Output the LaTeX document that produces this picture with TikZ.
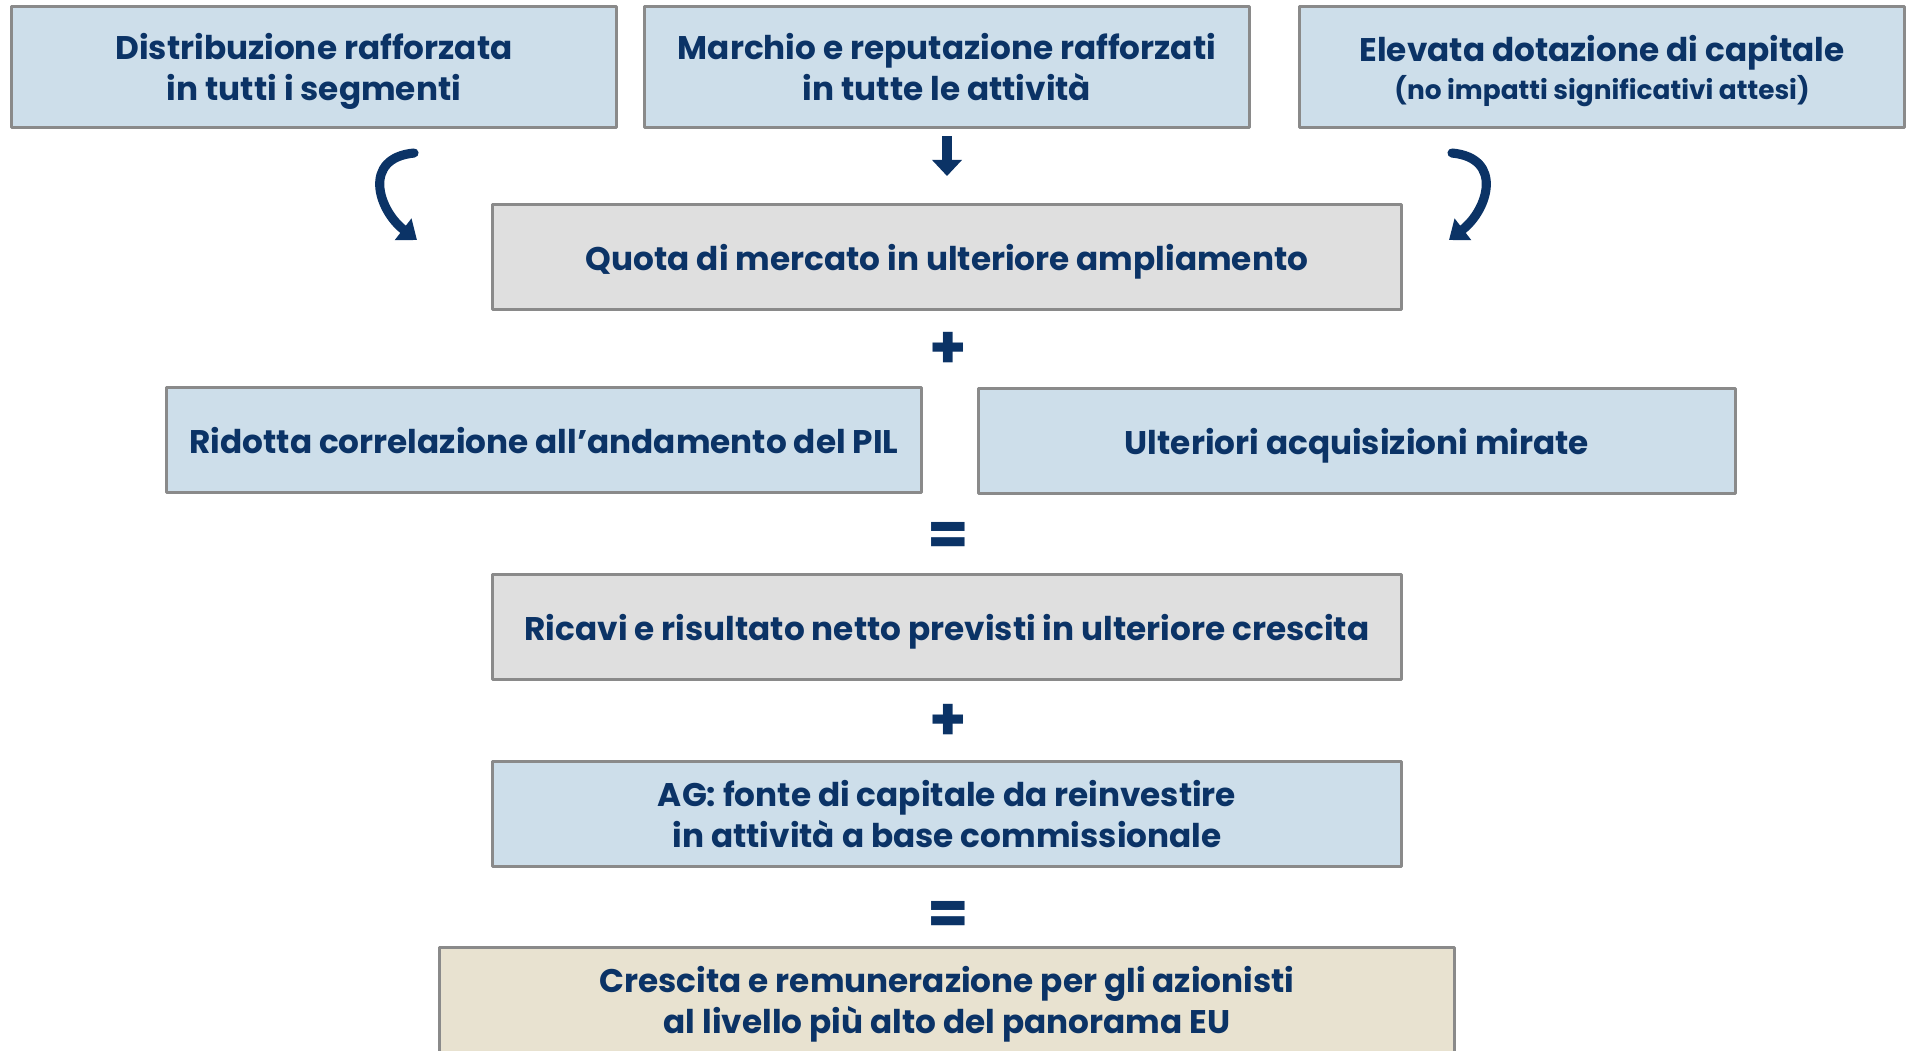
\documentclass[tikz,border=0pt]{standalone}
\usepackage{fontspec}
\setmainfont{Poppins}
\usetikzlibrary{arrows.meta}
\definecolor{navy}{HTML}{0B3366}
\definecolor{lblue}{HTML}{CDDEEA}
\definecolor{lgray}{HTML}{DFDFDF}
\definecolor{beige}{HTML}{E8E2D0}
\definecolor{rim}{HTML}{8A8A8A}
\begin{document}
\begin{tikzpicture}[x=.01cm,y=-.01cm, font=\bfseries\fontsize{9.3}{11.8}\selectfont, text=navy, line join=round,
	box/.style={draw=rim, line width=.85pt, align=center, inner sep=0pt, text depth=0pt, minimum height=1.05cm},
	bluebox/.style={box, fill=lblue},
	graybox/.style={box, fill=lgray, minimum width=9.08cm},
	topbox/.style={bluebox, minimum width=6.04cm, minimum height=1.21cm},
	sign/.style={font=\bfseries\fontsize{17}{17}\selectfont, inner sep=0pt},
	curvarrow/.style={draw=navy, line width=2.6pt, line cap=round, -{Triangle[length=5pt,width=7.5pt]}},
	downarrow/.style={draw=navy, line width=3.1pt, -{Triangle[length=4.6pt,width=8.3pt]}}]
	\useasboundingbox (0,0) rectangle (1910,1050);
	% riga superiore
	\node[topbox] (distr) at (314,67) {Distribuzione rafforzata\\in tutti i segmenti};
	\node[topbox] (march) at (947,67) {Marchio e reputazione rafforzati\\in tutte le attività};
	\node[topbox] (capit) at (1602,67) {Elevata dotazione di capitale\\[-1pt]{\fontsize{7.5}{9}\selectfont(no impatti significativi attesi)}};
	% frecce
	\coordinate (la) at (414,153); \coordinate (lb) at (417,240);
	\coordinate (ra) at (1452,153); \coordinate (rb) at (1449,240);
	\coordinate (ma) at (947,136); \coordinate (mb) at (947,176);
	\draw[curvarrow] (la) .. controls (362,158) and (378,210) .. (lb);
	\draw[curvarrow] (ra) .. controls (1504,158) and (1488,210) .. (rb);
	\draw[downarrow] (ma)--(mb);
	% blocchi centrali
	\node[graybox] (quota) at (947,257) {Quota di mercato in ulteriore ampliamento};
	\node[sign] (plusa) at (948,350) {+};
	\node[bluebox, minimum width=7.55cm] (ridot) at (544,440) {Ridotta correlazione all’andamento del PIL};
	\node[bluebox, minimum width=7.56cm] (acqui) at (1357,441) {Ulteriori acquisizioni mirate};
	\node[sign] (eqa) at (948,539) {=};
	\node[graybox] (ricav) at (947,627) {Ricavi e risultato netto previsti in ulteriore crescita};
	\node[sign] (plusb) at (948,722) {+};
	\node[bluebox, minimum width=9.08cm] (agfon) at (947,814) {AG: fonte di capitale da reinvestire\\in attività a base commissionale};
	\node[sign] (eqb) at (948,918) {=};
	\node[box, fill=beige, minimum width=10.15cm] (cresc) at (947,1000) {Crescita e remunerazione per gli azionisti\\al livello più alto del panorama EU};
\end{tikzpicture}
\end{document}
